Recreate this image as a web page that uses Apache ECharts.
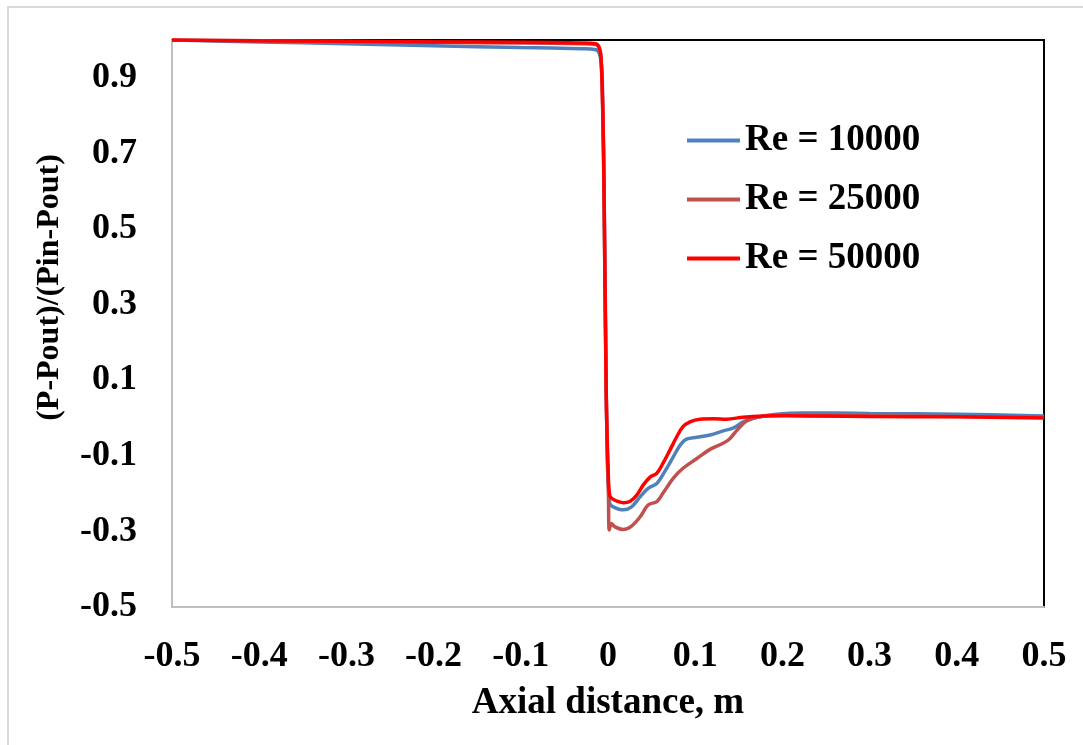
<!DOCTYPE html>
<html>
<head>
<meta charset="utf-8">
<style>
  html, body { margin: 0; padding: 0; background: #fff; }
  #chart { width: 1083px; height: 745px; }
</style>
<script src="https://cdn.jsdelivr.net/npm/echarts@6/dist/echarts.min.js"></script>
</head>
<body>
<div id="chart"></div>
<script>
// Normalised pressure (P-Pout)/(Pin-Pout) along the axial distance, three Reynolds numbers
const seriesNames = ['Re = 10000', 'Re = 25000', 'Re = 50000'];

const xRe10000 = [-0.5, -0.4, -0.3, -0.2, -0.1, -0.03, -0.015, -0.010, -0.007, -0.006, -0.005, -0.003, -0.001, 0.001, 0.002, 0.006, 0.0176, 0.027, 0.037, 0.046, 0.056, 0.065, 0.075, 0.083, 0.090, 0.102, 0.117, 0.132, 0.144, 0.155, 0.171, 0.193, 0.224, 0.26, 0.3, 0.4, 0.5];
const yRe10000 = [1.0, 0.995, 0.99, 0.985, 0.98, 0.977, 0.975, 0.965, 0.92, 0.82, 0.70, 0.30, -0.10, -0.20, -0.226, -0.235, -0.243, -0.235, -0.208, -0.186, -0.173, -0.142, -0.102, -0.071, -0.056, -0.051, -0.045, -0.034, -0.026, -0.010, 0.002, 0.010, 0.013, 0.013, 0.012, 0.010, 0.005];

const xRe25000 = [-0.5, -0.4, -0.3, -0.2, -0.1, -0.03, -0.014, -0.010, -0.008, -0.006, -0.0045, -0.002, 0.0005, 0.0015, 0.004, 0.008, 0.0176, 0.027, 0.037, 0.046, 0.056, 0.063, 0.075, 0.086, 0.102, 0.117, 0.132, 0.140, 0.148, 0.159, 0.174, 0.201, 0.243, 0.3, 0.4, 0.5];
const yRe25000 = [1.0, 0.998, 0.996, 0.994, 0.992, 0.990, 0.988, 0.977, 0.95, 0.80, 0.58, 0.05, -0.20, -0.296, -0.279, -0.288, -0.295, -0.286, -0.261, -0.230, -0.221, -0.199, -0.159, -0.133, -0.107, -0.083, -0.067, -0.054, -0.032, -0.008, 0.003, 0.007, 0.006, 0.006, 0.004, 0.002];

const xRe50000 = [-0.5, -0.4, -0.3, -0.2, -0.1, -0.03, -0.014, -0.010, -0.008, -0.006, -0.0045, -0.002, 0.0005, 0.002, 0.005, 0.0095, 0.0176, 0.025, 0.033, 0.0405, 0.048, 0.056, 0.063, 0.071, 0.079, 0.086, 0.094, 0.1055, 0.121, 0.136, 0.155, 0.178, 0.205, 0.243, 0.3, 0.4, 0.5];
const yRe50000 = [1.0, 0.998, 0.997, 0.995, 0.994, 0.992, 0.990, 0.980, 0.955, 0.82, 0.60, 0.06, -0.16, -0.205, -0.214, -0.219, -0.224, -0.221, -0.204, -0.177, -0.157, -0.146, -0.120, -0.085, -0.049, -0.023, -0.010, -0.003, -0.002, -0.003, 0.002, 0.005, 0.006, 0.005, 0.004, 0.003, 0.0];

const lineColors = ['#4F81BD', '#C0504D', '#FF0000'];

const xs = [xRe10000, xRe25000, xRe50000];
const ys = [yRe10000, yRe25000, yRe50000];

const fontFamily = '"Liberation Serif", "Times New Roman", serif';
const fmt = v => { const r = Math.round(v * 10) / 10; return r === 0 ? '0' : String(r); };

const chart = echarts.init(document.getElementById('chart'), null, { renderer: 'canvas' });

chart.setOption({
  backgroundColor: '#ffffff',
  animation: false,
  textStyle: { fontFamily: fontFamily },
  graphic: [{
    type: 'rect',
    silent: true,
    shape: { x: 8, y: 7, width: 1200, height: 900 },
    style: { fill: 'none', stroke: '#d9d9d9', lineWidth: 2 }
  }],
  grid: {
    left: 172, right: 39, top: 40, bottom: 138,
    show: true, borderColor: '#000', borderWidth: 2, backgroundColor: 'transparent'
  },
  legend: {
    data: seriesNames,
    orient: 'vertical',
    left: 687, top: 122,
    padding: 0,
    icon: 'rect',
    itemWidth: 53, itemHeight: 4,
    itemGap: 22,
    textStyle: { fontFamily: fontFamily, fontWeight: 'bold', fontSize: 37, color: '#000', lineHeight: 37 }
  },
  xAxis: {
    type: 'value',
    min: -0.5, max: 0.5, interval: 0.1,
    name: 'Axial distance, m',
    nameLocation: 'middle',
    nameGap: 78,
    nameTextStyle: { fontFamily: fontFamily, fontWeight: 'bold', fontSize: 37, color: '#000' },
    axisLine: { onZero: false, lineStyle: { color: '#bfbfbf', width: 2 } },
    axisTick: { show: false },
    splitLine: { show: false },
    axisLabel: { margin: 32, fontFamily: fontFamily, fontWeight: 'bold', fontSize: 36, color: '#000', formatter: fmt }
  },
  yAxis: {
    type: 'value',
    min: -0.5, max: 1.0, interval: 0.2,
    name: '(P-Pout)/(Pin-Pout)',
    nameLocation: 'middle',
    nameRotate: 90,
    nameGap: 106,
    nameTextStyle: { fontFamily: fontFamily, fontWeight: 'bold', fontSize: 32, color: '#000', padding: [0, 0, 0, 72] },
    axisLine: { onZero: false, lineStyle: { color: '#bfbfbf', width: 2 } },
    axisTick: { show: false },
    splitLine: { show: false },
    axisLabel: { margin: 35, showMaxLabel: false, fontFamily: fontFamily, fontWeight: 'bold', fontSize: 36, color: '#000', formatter: fmt }
  },
  series: seriesNames.map((name, i) => ({
    name: name,
    type: 'line',
    data: xs[i].map((x, j) => [x, ys[i][j]]),
    showSymbol: false,
    symbol: 'none',
    smooth: 0.35,
    color: lineColors[i],
    lineStyle: { color: lineColors[i], width: 3.5 },
    z: 2 + i
  }))
});
</script>
</body>
</html>
